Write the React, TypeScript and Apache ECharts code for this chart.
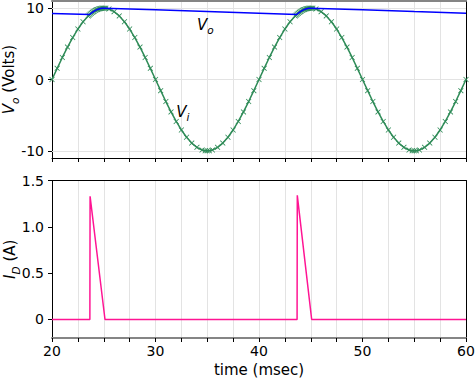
import React, { useEffect, useRef } from 'react';
import * as echarts from 'echarts';

const FONT = 'DejaVu Sans';

// Input voltage Vi (Volts) vs time (msec)
const viTime = [
  20, 20.5, 21, 21.5, 22, 22.5, 23, 23.5, 23.6, 23.7, 23.8, 23.9, 24, 24.1, 24.2, 24.3, 24.4, 24.5, 24.6, 24.7, 24.8, 24.9,
  25, 25.1, 25.2, 25.5, 26, 26.5, 27, 27.5, 28, 28.5, 29, 29.5, 30, 30.5, 31, 31.5, 32, 32.5, 33, 33.5, 34, 34.5,
  34.8, 35, 35.2, 35.5, 36, 36.5, 37, 37.5, 38, 38.5, 39, 39.5,
  40, 40.5, 41, 41.5, 42, 42.5, 43, 43.5, 43.6, 43.7, 43.8, 43.9, 44, 44.1, 44.2, 44.3, 44.4, 44.5, 44.6, 44.7, 44.8, 44.9,
  45, 45.1, 45.2, 45.5, 46, 46.5, 47, 47.5, 48, 48.5, 49, 49.5, 50, 50.5, 51, 51.5, 52, 52.5, 53, 53.5, 54, 54.5,
  54.8, 55, 55.2, 55.5, 56, 56.5, 57, 57.5, 58, 58.5, 59, 59.5, 60,
];
const viVolts = [
  0, 1.56, 3.09, 4.54, 5.88, 7.07, 8.09, 8.91, 9.05, 9.18, 9.3, 9.41, 9.51, 9.6, 9.69, 9.76, 9.82, 9.88, 9.92, 9.96, 9.98, 10,
  10, 10, 9.98, 9.88, 9.51, 8.91, 8.09, 7.07, 5.88, 4.54, 3.09, 1.56, 0, -1.56, -3.09, -4.54, -5.88, -7.07, -8.09, -8.91, -9.51, -9.88,
  -9.98, -10, -9.98, -9.88, -9.51, -8.91, -8.09, -7.07, -5.88, -4.54, -3.09, -1.56,
  0, 1.56, 3.09, 4.54, 5.88, 7.07, 8.09, 8.91, 9.05, 9.18, 9.3, 9.41, 9.51, 9.6, 9.69, 9.76, 9.82, 9.88, 9.92, 9.96, 9.98, 10,
  10, 10, 9.98, 9.88, 9.51, 8.91, 8.09, 7.07, 5.88, 4.54, 3.09, 1.56, 0, -1.56, -3.09, -4.54, -5.88, -7.07, -8.09, -8.91, -9.51, -9.88,
  -9.98, -10, -9.98, -9.88, -9.51, -8.91, -8.09, -7.07, -5.88, -4.54, -3.09, -1.56, 0,
];

// Output voltage Vo (Volts)
const voTime = [20, 23.65, 23.7, 23.8, 23.9, 24, 24.2, 24.4, 24.6, 24.8, 25, 30, 35, 40, 43.65, 43.7, 43.8, 43.9, 44, 44.2, 44.4, 44.6, 44.8, 45, 50, 55, 60];
const voVolts = [9.24, 9.11, 9.18, 9.3, 9.41, 9.51, 9.69, 9.82, 9.92, 9.98, 10, 9.76, 9.52, 9.29, 9.11, 9.18, 9.3, 9.41, 9.51, 9.69, 9.82, 9.92, 9.98, 10, 9.76, 9.52, 9.3];

// Diode current ID (A)
const idTime = [20, 23.66, 23.68, 25.12, 43.68, 43.7, 45.09, 60];
const idAmps = [0, 0, 1.33, 0, 0, 1.34, 0, 0];

const vTicks = [-10, 0, 10];
const iTicks = [0, 0.5, 1, 1.5];
const xLabelTicks = [20, 30, 40, 50, 60];

const GREEN = '#2e8b57';
const BLUE = '#0000ff';
const PINK = '#ff1493';
const GRIDC = '#e3e3e3';
const SPINE_GRAY = '#858585';

const X_SYMBOL = 'path://M0,1 L1,0 L5,4 L9,0 L10,1 L6,5 L10,9 L9,10 L5,6 L1,10 L0,9 L4,5 Z';

const richSub = (size: number) => ({
  it: { fontFamily: FONT, fontSize: size, fontStyle: 'italic', color: '#000', lineHeight: 22, verticalAlign: 'middle' },
  sub: { fontFamily: FONT, fontSize: size * 0.7, fontStyle: 'italic', color: '#000', lineHeight: 12, verticalAlign: 'bottom' },
  n: { fontFamily: FONT, fontSize: size, color: '#000', lineHeight: 22, verticalAlign: 'middle' },
});

function mainXAxis(gridIndex: number, showLabels: boolean, lineColor: string, lineWidth: number) {
  return {
    type: 'value',
    gridIndex,
    position: 'bottom',
    min: 20,
    max: 60,
    interval: 2.5,
    axisLine: { show: true, onZero: false, lineStyle: { color: lineColor, width: lineWidth } },
    axisTick: { show: true, inside: false, length: 4, lineStyle: { color: '#000', width: 1 } },
    axisLabel: {
      show: showLabels,
      fontFamily: FONT,
      fontSize: 14,
      color: '#000',
      margin: 6,
      formatter: (v: number) => (xLabelTicks.includes(v) ? String(v) : ''),
    },
    splitLine: { show: true, lineStyle: { color: GRIDC, width: 1 } },
    name: showLabels ? 'time (msec)' : '',
    nameLocation: 'middle',
    nameGap: 24,
    nameMoveOverlap: false,
    nameTextStyle: { fontFamily: FONT, fontSize: 15, color: '#000' },
  };
}

function spineX(gridIndex: number, position: string, color: string, width: number) {
  return {
    type: 'value', gridIndex, position, min: 20, max: 60,
    axisLine: { show: true, onZero: false, lineStyle: { color, width } },
    axisTick: { show: false }, axisLabel: { show: false }, splitLine: { show: false },
  };
}

function spineY(gridIndex: number, min: number, max: number) {
  return {
    type: 'value', gridIndex, position: 'right', min, max,
    axisLine: { show: true, onZero: false, lineStyle: { color: '#000', width: 1 } },
    axisTick: { show: false }, axisLabel: { show: false }, splitLine: { show: false },
  };
}

export default function App() {
  const ref = useRef<HTMLDivElement>(null);
  useEffect(() => {
    document.body.style.margin = '0';
    if (!ref.current) return;
    const chart = echarts.init(ref.current, undefined, { renderer: 'svg' });
    const vi = viTime.map((t, i) => [t, viVolts[i]]);
    const vo = voTime.map((t, i) => [t, voVolts[i]]);
    const id = idTime.map((t, i) => [t, idAmps[i]]);

    chart.setOption({
      animation: false,
      backgroundColor: '#fff',
      grid: [
        { left: 52, top: 1, width: 414, height: 157, containLabel: false, outerBoundsMode: 'none', show: false },
        { left: 52, top: 180.5, width: 414, height: 157.5, containLabel: false, outerBoundsMode: 'none', show: false },
      ],
      xAxis: [
        mainXAxis(0, false, '#000', 1),
        mainXAxis(1, true, SPINE_GRAY, 2),
        spineX(0, 'top', SPINE_GRAY, 2),
        spineX(1, 'top', '#000', 1),
      ],
      yAxis: [
        {
          type: 'value', gridIndex: 0, position: 'left', min: -11, max: 11,
          axisLine: { show: true, onZero: false, lineStyle: { color: '#000' } },
          axisTick: { show: true, length: 4, customValues: vTicks, lineStyle: { color: '#000' } },
          axisLabel: { fontFamily: FONT, fontSize: 14, color: '#000', margin: 8, customValues: vTicks, formatter: (v: number) => String(v) },
          splitLine: { show: false },
          name: '{it|V}{sub|o}{n| (Volts)}',
          nameLocation: 'middle',
          nameGap: 32,
          nameMoveOverlap: false,
          nameTextStyle: { fontFamily: FONT, fontSize: 15, color: '#000', rich: richSub(15) },
        },
        {
          type: 'value', gridIndex: 1, position: 'left', min: -0.2, max: 1.5,
          axisLine: { show: true, onZero: false, lineStyle: { color: '#000' } },
          axisTick: { show: true, length: 4, customValues: iTicks, lineStyle: { color: '#000' } },
          axisLabel: {
            fontFamily: FONT, fontSize: 14, color: '#000', margin: 8, customValues: iTicks,
            formatter: (v: number) => (v === 0 ? '0' : v.toFixed(1)),
          },
          splitLine: { show: false },
          name: '{it|I}{sub|D}{n| (A)}',
          nameLocation: 'middle',
          nameGap: 31,
          nameMoveOverlap: false,
          nameTextStyle: { fontFamily: FONT, fontSize: 15, color: '#000', rich: richSub(15) },
        },
        spineY(0, -11, 11),
        spineY(1, -0.2, 1.5),
      ],
      series: [
        {
          type: 'line',
          xAxisIndex: 0, yAxisIndex: 0,
          data: vi,
          symbol: X_SYMBOL,
          symbolSize: 5.5,
          showAllSymbol: true,
          lineStyle: { color: GREEN, width: 1.5 },
          itemStyle: { color: GREEN },
          z: 3,
          markLine: {
            silent: true,
            z: 1,
            symbol: ['none', 'none'],
            label: { show: false },
            lineStyle: { color: GRIDC, type: 'solid', width: 1 },
            data: vTicks.map((v) => ({ yAxis: v })),
          },
        },
        {
          type: 'line',
          xAxisIndex: 0, yAxisIndex: 0,
          data: vo,
          showSymbol: false,
          lineStyle: { color: BLUE, width: 1.5 },
          itemStyle: { color: BLUE },
          z: 4,
          markPoint: {
            silent: true,
            symbol: 'circle',
            symbolSize: 0,
            label: {
              show: true,
              position: 'right',
              distance: 0,
              rich: richSub(15),
            },
            data: [
              { coord: [34.0, 7.64], label: { formatter: '{it|V}{sub|o}' } },
              { coord: [32.0, -4.5], label: { formatter: '{it|V}{sub|i}' } },
            ],
          },
        },
        {
          type: 'line',
          xAxisIndex: 1, yAxisIndex: 1,
          data: id,
          showSymbol: false,
          lineStyle: { color: PINK, width: 1.5 },
          itemStyle: { color: PINK },
          z: 3,
        },
      ],
    });
    return () => chart.dispose();
  }, []);
  return <div ref={ref} style={{ width: 475, height: 379 }} />;
}
